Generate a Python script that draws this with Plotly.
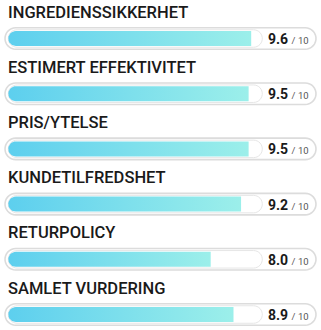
import numpy as np
import plotly.graph_objects as go

categories = ["INGREDIENSSIKKERHET", "ESTIMERT EFFEKTIVITET", "PRIS/YTELSE",
              "KUNDETILFREDSHET", "RETURPOLICY", "SAMLET VURDERING"]
scores = [9.6, 9.5, 9.5, 9.2, 8.0, 8.9]
max_score = 10

W, H = 321, 330
X0, S = 8.3, 25.3          # pixel of score 0, pixels per score unit
Y0, P = 38.5, 55.2         # pixel of first bar centre, row pitch

xr = [-X0 / S, (W - X0) / S]
yr = [(H - Y0) / P, -Y0 / P]

def ux(px):  # pixel length -> x data units
    return px / S

def uy(px):
    return px / P

def pill_path(x0, x1, yc, h, left_round=True, right_round=True, xpaper=False, n=16):
    r = h / 2.0
    conv = (lambda p: p / W) if xpaper else ux
    pts = []
    if right_round:
        for t in np.linspace(-np.pi / 2, np.pi / 2, n):
            pts.append((x1 - conv(r) + conv(r * np.cos(t)), yc + uy(r * np.sin(t))))
    else:
        pts += [(x1, yc - uy(r)), (x1, yc + uy(r))]
    if left_round:
        for t in np.linspace(np.pi / 2, 3 * np.pi / 2, n):
            pts.append((x0 + conv(r) + conv(r * np.cos(t)), yc + uy(r * np.sin(t))))
    else:
        pts += [(x0, yc + uy(r)), (x0, yc - uy(r))]
    return pts

def to_svg(pts):
    return "M" + " L".join(f"{x:.5f},{y:.5f}" for x, y in pts) + " Z"

fig = go.Figure()
shapes = []
annotations = []
font = "Roboto"

for i, (cat, v) in enumerate(zip(categories, scores)):
    # outer container
    shapes.append(dict(type="path", xref="paper", yref="y",
                       path=to_svg(pill_path(5 / W, 316 / W, i, 21.5, xpaper=True)),
                       line=dict(color="#dcdcdc", width=1.6), fillcolor="#ffffff", layer="below"))
    # inner track (full scale)
    shapes.append(dict(type="path", xref="x", yref="y",
                       path=to_svg(pill_path(0, max_score + ux(1), i, 17.5)),
                       line=dict(color="#e6e6e6", width=1), fillcolor="#ffffff", layer="below"))
    # score fill with gradient
    pts = pill_path(0, v, i, 15, right_round=False)
    xs = [p[0] for p in pts] + [pts[0][0]]
    ys = [p[1] for p in pts] + [pts[0][1]]
    fig.add_trace(go.Scatter(x=xs, y=ys, mode="lines", fill="toself", line=dict(width=0),
                             fillgradient=dict(type="horizontal",
                                               colorscale=[[0, "#5dcfee"], [1, "#9cefea"]]),
                             hoverinfo="skip", showlegend=False))
    # title
    annotations.append(dict(xref="paper", yref="y", x=6 / W, y=i - uy(26.5),
                            xanchor="left", yanchor="middle", showarrow=False,
                            text=cat, font=dict(family=font, size=16.5, color="#1a1a1a", weight=500)))
    # value label
    annotations.append(dict(xref="paper", yref="y", x=266 / W, y=i + uy(0.5),
                            xanchor="left", yanchor="middle", showarrow=False,
                            text=f"<b>{v:.1f}</b> <span style='font-size:9.5px;color:#555'>/ {max_score}</span>",
                            font=dict(family=font, size=14, color="#1a1a1a")))

fig.update_layout(width=W, height=H, margin=dict(l=0, r=0, t=0, b=0),
                  paper_bgcolor="#ffffff", plot_bgcolor="#ffffff",
                  xaxis=dict(range=xr, visible=False, fixedrange=True),
                  yaxis=dict(range=yr, visible=False, fixedrange=True),
                  shapes=shapes, annotations=annotations)
fig.write_html("out.html")
